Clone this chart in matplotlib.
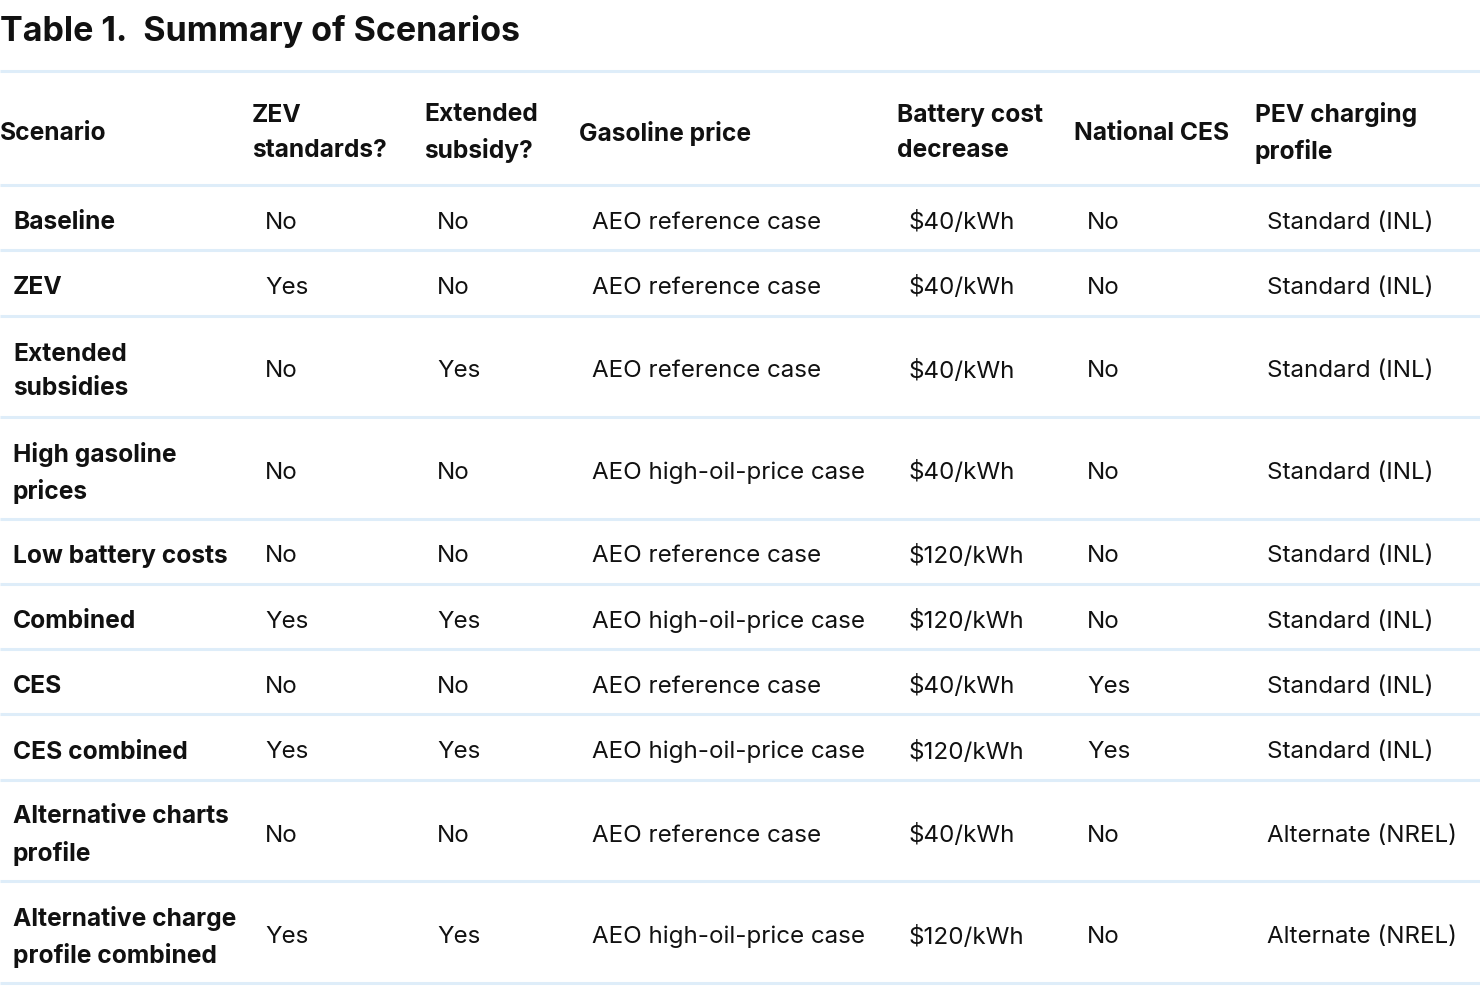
import matplotlib
matplotlib.use("Agg")
import matplotlib.pyplot as plt

# Table contents
headers = ["Scenario", "ZEV\nstandards?", "Extended\nsubsidy?", "Gasoline price",
           "Battery cost\ndecrease", "National CES", "PEV charging\nprofile"]
scenarios = ["Baseline", "ZEV", "Extended\nsubsidies", "High gasoline\nprices",
             "Low battery costs", "Combined", "CES", "CES combined",
             "Alternative charts\nprofile", "Alternative charge\nprofile combined"]
zev = ["No", "Yes", "No", "No", "No", "Yes", "No", "Yes", "No", "Yes"]
subsidy = ["No", "No", "Yes", "No", "No", "Yes", "No", "Yes", "No", "Yes"]
gasoline = ["AEO reference case", "AEO reference case", "AEO reference case",
            "AEO high-oil-price case", "AEO reference case", "AEO high-oil-price case",
            "AEO reference case", "AEO high-oil-price case", "AEO reference case",
            "AEO high-oil-price case"]
battery = ["$40/kWh", "$40/kWh", "$40/kWh", "$40/kWh", "$120/kWh", "$120/kWh",
           "$40/kWh", "$120/kWh", "$40/kWh", "$120/kWh"]
ces = ["No", "No", "No", "No", "No", "No", "Yes", "Yes", "No", "No"]
pev = ["Standard (INL)"] * 8 + ["Alternate (NREL)"] * 2

columns = [scenarios, zev, subsidy, gasoline, battery, ces, pev]

# Layout (pixels)
W, H = 1480, 994
head_x = [0, 252, 424, 579, 897, 1074, 1255]
body_x = [13, 265, 437, 592, 909, 1087, 1267]
line_col = "#deedf9"
txt_col = "#111111"
font = "Inter"
fs_bold = 17.7
fs_norm = 17.4

fig = plt.figure(figsize=(W / 100, H / 100), dpi=100)
ax = fig.add_axes([0, 0, 1, 1])
ax.set_xlim(0, W)
ax.set_ylim(H, 0)
ax.axis("off")

ax.text(0, 32, "Table 1.  Summary of Scenarios", fontsize=24.5, fontweight="bold",
        family=font, color=txt_col, va="center", ha="left")

top, head_bot = 71, 185
ax.plot([0, W], [top, top], color=line_col, lw=2.2, solid_capstyle="butt")
ax.plot([0, W], [head_bot, head_bot], color=line_col, lw=2.2, solid_capstyle="butt")
for x, h in zip(head_x, headers):
    ax.text(x, (top + head_bot) / 2 + 5, h, fontsize=fs_bold, fontweight="bold", family=font,
            color=txt_col, va="center", ha="left", linespacing=1.62)

y = head_bot
for i in range(len(scenarios)):
    nl = scenarios[i].count("\n") + 1
    hgt = 65.3 if nl == 1 else 101.5
    yc = y + hgt / 2 + 5
    for j, col in enumerate(columns):
        ax.text(body_x[j], yc, col[i], family=font, color=txt_col,
                fontsize=fs_bold if j == 0 else fs_norm,
                fontweight="bold" if j == 0 else "normal",
                va="center", ha="left", linespacing=1.62)
    y += hgt
    ax.plot([0, W], [y, y], color=line_col, lw=2.2, solid_capstyle="butt")

fig.savefig("out.png", dpi=100)
